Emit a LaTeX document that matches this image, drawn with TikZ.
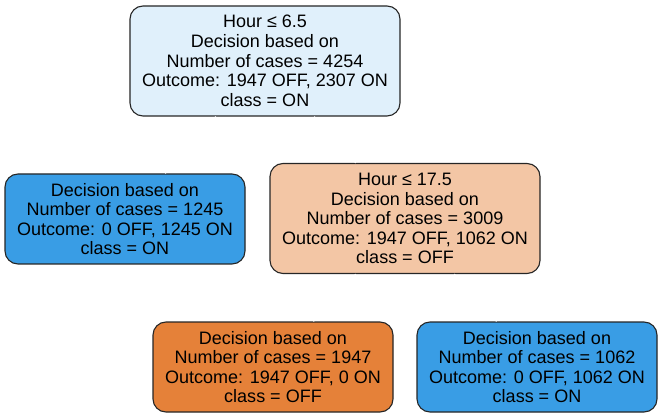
\documentclass[tikz,border=0pt]{standalone}
\usepackage{fontspec}
\setmainfont{Liberation Sans}
\usepackage{xcolor}
\usetikzlibrary{positioning}

\definecolor{onblue}{HTML}{399DE5}
\definecolor{offorange}{HTML}{E58139}
\definecolor{rootblue}{HTML}{E0F0FB}
\definecolor{midorange}{HTML}{F3C6A5}

\begin{document}
\begin{tikzpicture}[
    x=1pt, y=-1pt,
    split/.style={rectangle, draw=black!85, line width=1.1pt, rounded corners=13pt, align=center, inner sep=0pt, minimum width=270pt, minimum height=110pt, font=\fontsize{18}{19.6}\selectfont},
    leaf/.style={split, minimum width=240pt, minimum height=90pt},
    edge/.style={white, line width=1pt}
]
    \useasboundingbox (0,0) rectangle (663,419);

    % Root split
    \node [split, fill=rootblue] (root) at (265,61) {Hour ≤ 6.5\\Decision based on\\Number of cases = 4254\\Outcome: 1947 OFF, 2307 ON\\class = ON};

    % Second level
    \node [leaf, fill=onblue] (early) at (125,219) {Decision based on\\Number of cases = 1245\\Outcome: 0 OFF, 1245 ON\\class = ON};
    \node [split, fill=midorange] (day) at (405,218.5) {Hour ≤ 17.5\\Decision based on\\Number of cases = 3009\\Outcome: 1947 OFF, 1062 ON\\class = OFF};

    % Third level
    \node [leaf, fill=offorange] (daytime) at (273,367) {Decision based on\\Number of cases = 1947\\Outcome: 1947 OFF, 0 ON\\class = OFF};
    \node [leaf, fill=onblue] (late) at (537,367) {Decision based on\\Number of cases = 1062\\Outcome: 0 OFF, 1062 ON\\class = ON};

    % Edges (drawn white)
    \draw [edge] (root) -- (early);
    \draw [edge] (root) -- (day);
    \draw [edge] (day) -- (daytime);
    \draw [edge] (day) -- (late);
\end{tikzpicture}
\end{document}
